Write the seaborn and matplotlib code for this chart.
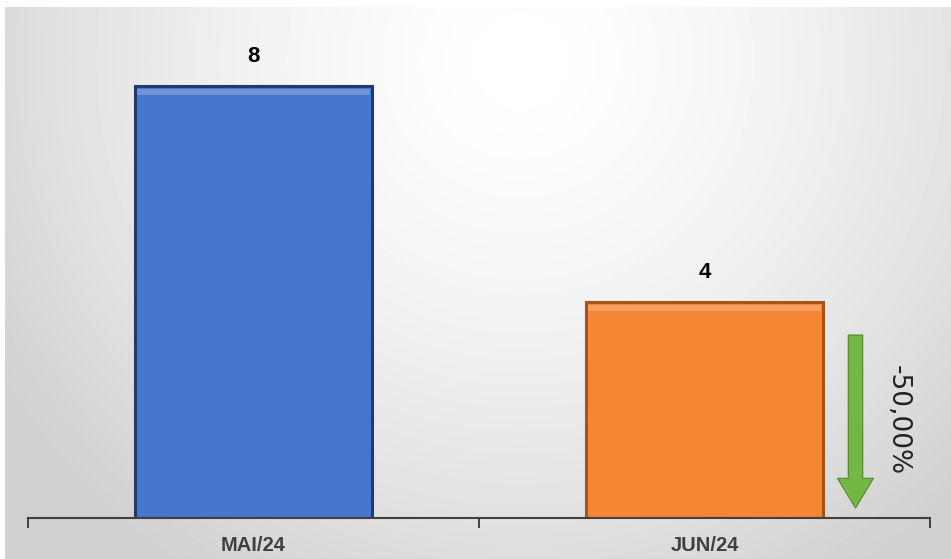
import numpy as np
import pandas as pd
import matplotlib.pyplot as plt
import seaborn as sns
from matplotlib.patches import FancyArrow

# data
meses = ["MAI/24", "JUN/24"]
valores = [8, 4]
variacao = "-50,00%"

cores = ["#4677CD", "#F58634"]
bordas = ["#1F3B6E", "#A9521A"]

sns.set_theme(style="white")
plt.rcParams['font.family'] = ['Liberation Sans', 'DejaVu Sans']

fig = plt.figure(figsize=(9.51, 5.59), dpi=100)

# radial grey background
bg = fig.add_axes([0, 0, 1, 1], zorder=0)
yy, xx = np.mgrid[0:559, 0:951]
r = np.sqrt(((xx - 520) / 560.0) ** 2 + ((yy - 60) / 560.0) ** 2)
shade = np.clip(1.0 - 0.16 * r ** 1.5, 0.82, 1.0)
shade[:7, :] = 1.0
shade[:, :5] = 1.0
bg.imshow(shade, cmap="gray", vmin=0, vmax=1, aspect="auto", extent=[0, 951, 559, 0])
bg.axis("off")

ax = fig.add_axes([28 / 951, 41 / 559, 902 / 951, 508 / 559], zorder=1)
ax.patch.set_alpha(0)

df = pd.DataFrame({"mes": meses, "valor": valores})
sns.barplot(data=df, x="mes", y="valor", hue="mes", palette=cores, width=0.525,
            legend=False, ax=ax, saturation=1)

for p, ec in zip(ax.patches, bordas):
    p.set_edgecolor(ec)
    p.set_linewidth(2.2)
    x0, w, h = p.get_x(), p.get_width(), p.get_height()
    # light bevel strip on top
    ax.add_patch(plt.Rectangle((x0 + 0.004, h - 0.16), w - 0.008, 0.11,
                               facecolor="white", alpha=0.22, lw=0, zorder=3))
    ax.text(x0 + w / 2, h + 0.55, f"{int(h)}", ha="center", va="center",
            fontsize=16, fontweight="bold", color="black")

ax.set_xlim(-0.5, 1.5)
ax.set_ylim(0, 508 / 54)
ax.set_xlabel("")
ax.set_ylabel("")
ax.set_yticks([])
ax.set_xticks([0, 1])
ax.set_xticklabels(meses, fontsize=14.5, fontweight="bold", color="#404040")
ax.tick_params(axis="x", length=0, pad=13)
ax.set_xticks([-0.5, 0.5, 1.5], minor=True)
ax.tick_params(axis="x", which="minor", bottom=True, length=7, width=1.4,
               color="#404040", direction="out")
for s in ["top", "right", "left"]:
    ax.spines[s].set_visible(False)
ax.spines["bottom"].set_color("#404040")
ax.spines["bottom"].set_linewidth(1.5)

# change arrow
xa = 1.0 + (858 - 707) / 451
ax.add_patch(FancyArrow(xa, 183 / 54, 0, -(183 - 10) / 54, width=0.032,
                        head_width=0.08, head_length=0.55, length_includes_head=True,
                        facecolor="#72B843", edgecolor="#4C8A2A", lw=0.8, zorder=4))
ax.text(1.0 + (900 - 707) / 451, 98 / 54, variacao, rotation=-90, ha="center", va="center",
        fontsize=19, color="#222222", family="DejaVu Sans")

fig.savefig("out.png", dpi=100)
